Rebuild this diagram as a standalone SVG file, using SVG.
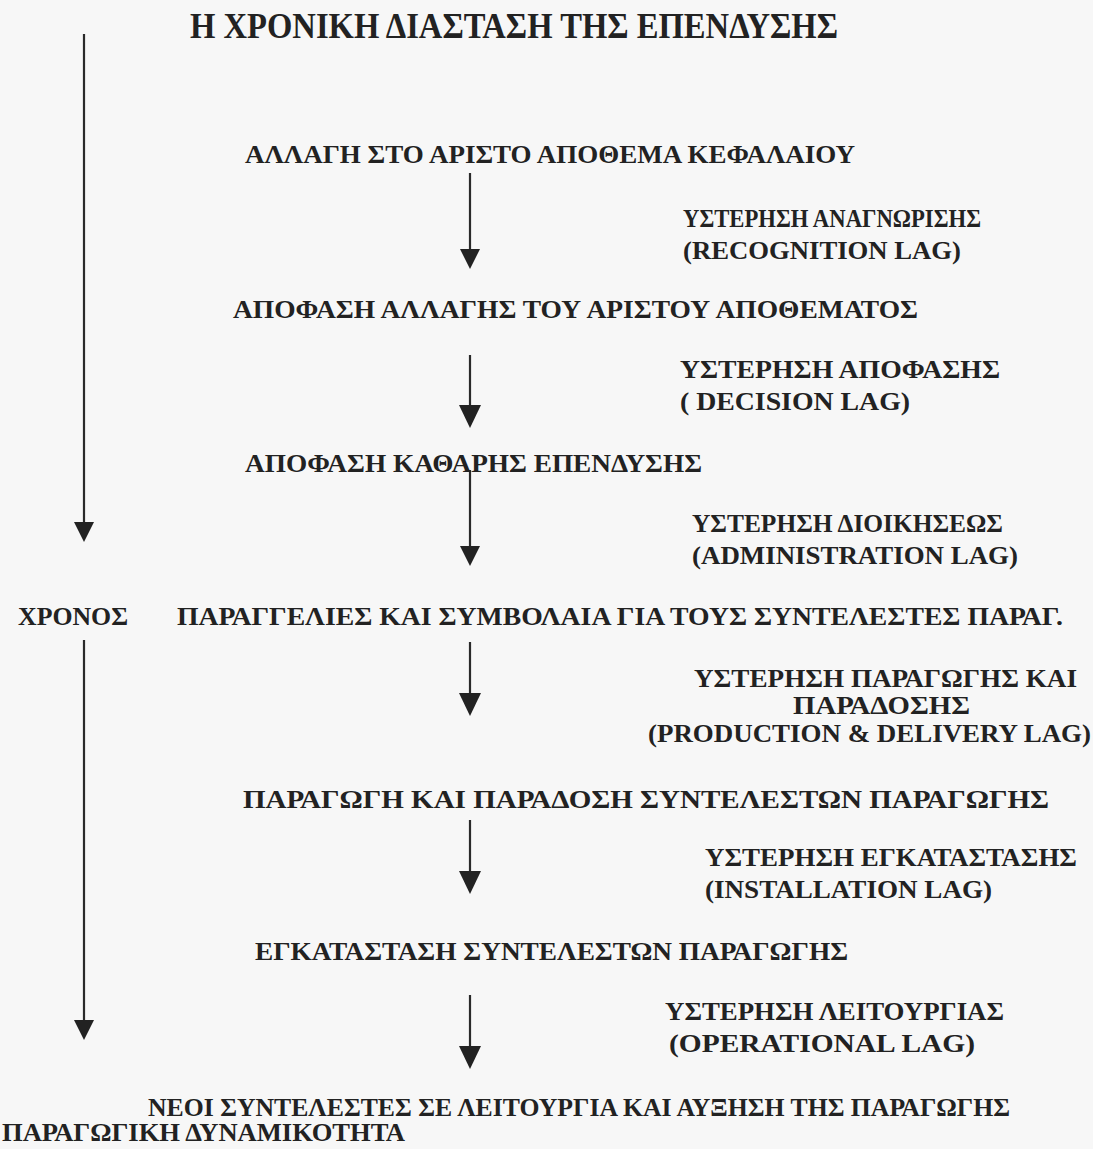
<svg xmlns="http://www.w3.org/2000/svg" width="1093" height="1149" viewBox="0 0 1093 1149">
<style>
text{font-family:"Liberation Serif","Times New Roman",serif;font-weight:bold;fill:#222;font-size:26px}
.title{font-size:35px}
.line{stroke:#2a2a2a;stroke-width:2.2;fill:none}
.head{fill:#222}
</style>
<rect width="1093" height="1149" fill="#f7f7f7"/>
<text class="title" x="190" y="38" textLength="648" lengthAdjust="spacingAndGlyphs">Η ΧΡΟΝΙΚΗ ΔΙΑΣΤΑΣΗ ΤΗΣ ΕΠΕΝΔΥΣΗΣ</text>
<g id="connectors">
<line class="line" x1="84" y1="34" x2="84" y2="530"/>
<polygon class="head" points="74,522 94,522 84,542"/>
<line class="line" x1="84" y1="640" x2="84" y2="1030"/>
<polygon class="head" points="74,1020 94,1020 84,1040"/>
<line class="line" x1="470" y1="173" x2="470" y2="258"/>
<polygon class="head" points="460,249 480,249 470,269"/>
<line class="line" x1="470" y1="355" x2="470" y2="415"/>
<polygon class="head" points="459,405 481,405 470,428"/>
<line class="line" x1="470" y1="470" x2="470" y2="555"/>
<polygon class="head" points="460,546 480,546 470,566"/>
<line class="line" x1="470" y1="642" x2="470" y2="705"/>
<polygon class="head" points="459,693 481,693 470,716"/>
<line class="line" x1="470" y1="820" x2="470" y2="883"/>
<polygon class="head" points="459,871 481,871 470,894"/>
<line class="line" x1="470" y1="995" x2="470" y2="1058"/>
<polygon class="head" points="459,1046 481,1046 470,1069"/>
</g>
<g id="n1"><text x="245" y="163" textLength="610" lengthAdjust="spacingAndGlyphs">ΑΛΛΑΓΗ ΣΤΟ ΑΡΙΣΤΟ ΑΠΟΘΕΜΑ ΚΕΦΑΛΑΙΟΥ</text></g>
<g id="l1"><text x="683" y="227" textLength="298" lengthAdjust="spacingAndGlyphs">ΥΣΤΕΡΗΣΗ ΑΝΑΓΝΩΡΙΣΗΣ</text>
<text x="683" y="259" textLength="278" lengthAdjust="spacingAndGlyphs">(RECOGNITION LAG)</text></g>
<g id="n2"><text x="233" y="318" textLength="685" lengthAdjust="spacingAndGlyphs">ΑΠΟΦΑΣΗ ΑΛΛΑΓΗΣ ΤΟΥ ΑΡΙΣΤΟΥ ΑΠΟΘΕΜΑΤΟΣ</text></g>
<g id="l2"><text x="680" y="378" textLength="320" lengthAdjust="spacingAndGlyphs">ΥΣΤΕΡΗΣΗ ΑΠΟΦΑΣΗΣ</text>
<text x="680" y="410" textLength="230" lengthAdjust="spacingAndGlyphs">( DECISION LAG)</text></g>
<g id="n3"><text x="245" y="472" textLength="457" lengthAdjust="spacingAndGlyphs">ΑΠΟΦΑΣΗ ΚΑΘΑΡΗΣ ΕΠΕΝΔΥΣΗΣ</text></g>
<g id="l3"><text x="692" y="532" textLength="311" lengthAdjust="spacingAndGlyphs">ΥΣΤΕΡΗΣΗ ΔΙΟΙΚΗΣΕΩΣ</text>
<text x="692" y="564" textLength="326" lengthAdjust="spacingAndGlyphs">(ADMINISTRATION LAG)</text></g>
<g id="time"><text x="18" y="625" textLength="110" lengthAdjust="spacingAndGlyphs">ΧΡΟΝΟΣ</text></g>
<g id="n4"><text x="177" y="625" textLength="886" lengthAdjust="spacingAndGlyphs">ΠΑΡΑΓΓΕΛΙΕΣ ΚΑΙ ΣΥΜΒΟΛΑΙΑ ΓΙΑ ΤΟΥΣ ΣΥΝΤΕΛΕΣΤΕΣ ΠΑΡΑΓ.</text></g>
<g id="l4"><text x="694" y="687" textLength="383" lengthAdjust="spacingAndGlyphs">ΥΣΤΕΡΗΣΗ ΠΑΡΑΓΩΓΗΣ ΚΑΙ</text>
<text x="793" y="714" textLength="177" lengthAdjust="spacingAndGlyphs">ΠΑΡΑΔΟΣΗΣ</text>
<text x="648" y="742" textLength="443" lengthAdjust="spacingAndGlyphs">(PRODUCTION &amp; DELIVERY LAG)</text></g>
<g id="n5"><text x="243" y="808" textLength="806" lengthAdjust="spacingAndGlyphs">ΠΑΡΑΓΩΓΗ ΚΑΙ ΠΑΡΑΔΟΣΗ ΣΥΝΤΕΛΕΣΤΩΝ ΠΑΡΑΓΩΓΗΣ</text></g>
<g id="l5"><text x="705" y="866" textLength="372" lengthAdjust="spacingAndGlyphs">ΥΣΤΕΡΗΣΗ ΕΓΚΑΤΑΣΤΑΣΗΣ</text>
<text x="705" y="898" textLength="287" lengthAdjust="spacingAndGlyphs">(INSTALLATION LAG)</text></g>
<g id="n6"><text x="255" y="960" textLength="593" lengthAdjust="spacingAndGlyphs">ΕΓΚΑΤΑΣΤΑΣΗ ΣΥΝΤΕΛΕΣΤΩΝ ΠΑΡΑΓΩΓΗΣ</text></g>
<g id="l6"><text x="665" y="1020" textLength="339" lengthAdjust="spacingAndGlyphs">ΥΣΤΕΡΗΣΗ ΛΕΙΤΟΥΡΓΙΑΣ</text>
<text x="669" y="1052" textLength="306" lengthAdjust="spacingAndGlyphs">(OPERATIONAL LAG)</text></g>
<g id="n7"><text x="148" y="1116" textLength="862" lengthAdjust="spacingAndGlyphs">ΝΕΟΙ ΣΥΝΤΕΛΕΣΤΕΣ ΣΕ ΛΕΙΤΟΥΡΓΙΑ ΚΑΙ ΑΥΞΗΣΗ ΤΗΣ ΠΑΡΑΓΩΓΗΣ</text>
<text x="2" y="1141" textLength="403" lengthAdjust="spacingAndGlyphs">ΠΑΡΑΓΩΓΙΚΗ ΔΥΝΑΜΙΚΟΤΗΤΑ</text></g>
</svg>
